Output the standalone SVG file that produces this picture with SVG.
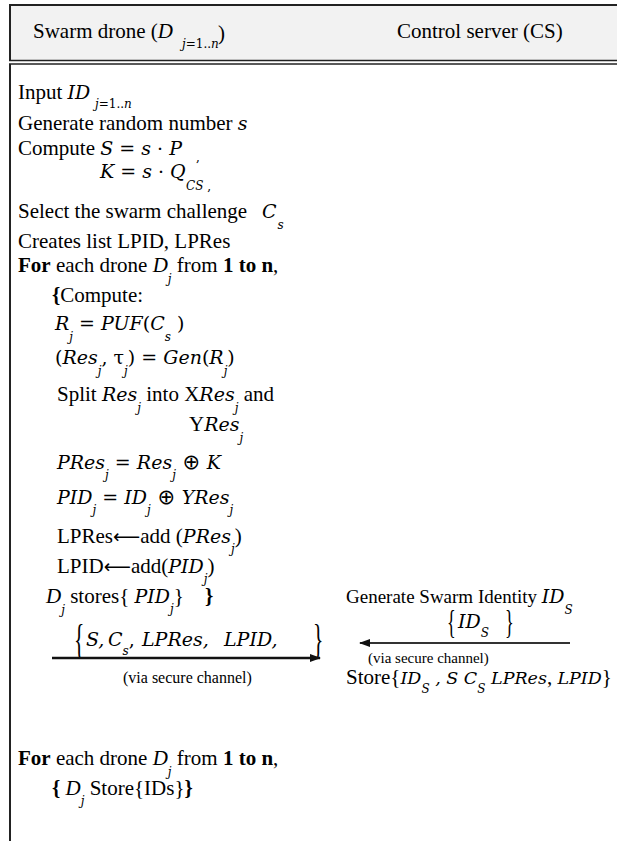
<svg xmlns="http://www.w3.org/2000/svg" width="617" height="841" viewBox="0 0 617 841">
<style>
.t{font-family:"Liberation Serif",serif;font-size:21px;fill:#000}
.h{font-family:"Liberation Serif",serif;font-size:19px;fill:#000}
.v{font-family:"Liberation Serif",serif;font-size:16px;fill:#000}
.v2{font-family:"Liberation Serif",serif;font-size:15px;fill:#000}
.br{font-family:"Liberation Serif",serif;fill:#000}
.i{font-style:italic}
.b{font-weight:bold}
.m{font-family:"DejaVu Serif",serif;font-style:italic;font-size:19px;fill:#000}
.m2{font-family:"DejaVu Serif",serif;font-style:italic;font-size:17.5px;fill:#000}
.u{font-style:normal}
.s{font-family:"DejaVu Serif",serif;font-style:italic;font-size:12px}
.su{font-family:"DejaVu Serif",serif;font-style:normal;font-size:12px}
.op{font-family:"DejaVu Sans",sans-serif;font-style:normal;font-size:21px}
.arr{font-family:"DejaVu Sans",sans-serif;font-size:19px}
.line{stroke:#222;fill:none}
</style>
<defs>
<marker id="ah" markerWidth="11" markerHeight="8" refX="10" refY="4" orient="auto" markerUnits="userSpaceOnUse">
<path d="M0,0 L11,4 L0,8 Z" fill="#111"/>
</marker>
</defs>

<g id="frame">
<rect x="9" y="4" width="608" height="57" fill="#f2f2f2"/>
<line class="line" x1="9" y1="5" x2="617" y2="5" stroke-width="2"/>
<line class="line" x1="10" y1="4" x2="10" y2="61" stroke-width="2"/>
<line class="line" x1="9" y1="60.5" x2="617" y2="60.5" stroke-width="1.5"/>
<line class="line" x1="9" y1="64" x2="617" y2="64" stroke-width="1.5"/>
<line class="line" x1="10" y1="64" x2="10" y2="841" stroke-width="2"/>
</g>

<g id="header">
<text class="t" x="33" y="38">Swarm drone (<tspan class="i">D</tspan></text>
<text class="s" x="182" y="48">j<tspan class="su">=1..</tspan>n</text>
<text class="t" x="218" y="40">)</text>
<text class="t" x="397" y="38">Control server (CS)</text>
</g>

<g id="drone-steps">
<text class="t" x="18" y="99">Input <tspan class="m">ID</tspan></text>
<text class="s" x="95" y="108">j<tspan class="su">=1..</tspan>n</text>
<text class="t" x="18" y="130">Generate random number <tspan class="m">s</tspan></text>
<text class="t" x="18" y="155">Compute <tspan class="m">S <tspan class="u">=</tspan> s <tspan class="u">·</tspan> P</tspan></text>
<text class="su" x="196" y="161">,</text>
<text class="m" x="100" y="178">K <tspan class="u">=</tspan> s <tspan class="u">·</tspan> Q</text>
<text class="s" x="186" y="190">CS<tspan class="su"> ,</tspan></text>
<text class="t" x="18" y="218">Select the swarm challenge</text>
<text class="m" x="262" y="218">C<tspan class="s" dx="1" dy="11">s</tspan></text>
<text class="t" x="18" y="248">Creates list LPID, LPRes</text>
<text class="t" x="18" y="272"><tspan class="b">For</tspan> each drone <tspan class="i">D</tspan><tspan class="s" dy="11">j</tspan><tspan dy="-11"> from </tspan><tspan class="b">1 to n</tspan>,</text>
<text class="t" x="52" y="302"><tspan class="b">{</tspan>Compute:</text>
<text class="m" x="55" y="330">R<tspan class="s" dy="11">j</tspan><tspan class="u" dy="-11"> = </tspan>PUF<tspan class="u">(</tspan>C<tspan class="s" dy="11">s</tspan><tspan class="u" dy="-11"> )</tspan></text>
<text class="m" x="55" y="364"><tspan class="u">(</tspan>Res<tspan class="s" dy="11">j</tspan><tspan class="u" dy="-11">, τ</tspan><tspan class="s" dy="11">j</tspan><tspan class="u" dy="-11">) = </tspan>Gen<tspan class="u">(</tspan>R<tspan class="s" dy="11">j</tspan><tspan class="u" dy="-11">)</tspan></text>
<text class="t" x="57" y="401">Split <tspan class="m">Res</tspan><tspan class="s" dy="11">j</tspan><tspan dy="-11"> into X</tspan><tspan class="m">Res</tspan><tspan class="s" dy="11">j</tspan><tspan dy="-11"> and</tspan></text>
<text class="t" x="189" y="431">Y<tspan class="m">Res</tspan><tspan class="s" dy="11">j</tspan></text>
<text class="m" x="57" y="469">PRes<tspan class="s" dy="10">j</tspan><tspan class="u" dy="-10"> = </tspan>Res<tspan class="s" dy="10">j</tspan><tspan class="op" dy="-10"> ⊕ </tspan>K</text>
<text class="m" x="57" y="504">PID<tspan class="s" dy="10">j</tspan><tspan class="u" dy="-10"> = </tspan>ID<tspan class="s" dy="10">j</tspan><tspan class="op" dy="-10"> ⊕ </tspan>YRes<tspan class="s" dy="10">j</tspan></text>
<text class="t" x="57" y="543">LPRes<tspan class="arr">⟵</tspan>add (<tspan class="m">PRes</tspan><tspan class="s" dy="10">j</tspan><tspan dy="-10">)</tspan></text>
<text class="t" x="57" y="573">LPID<tspan class="arr">⟵</tspan>add(<tspan class="m">PID</tspan><tspan class="s" dy="10">j</tspan><tspan dy="-10">)</tspan></text>
<text class="t" x="46" y="603"><tspan class="i">D</tspan><tspan class="s" dy="11">j</tspan><tspan dy="-11"> stores{ </tspan><tspan class="m">PID</tspan><tspan class="s" dy="10">j</tspan><tspan dy="-10">}</tspan></text>
<text class="t b" x="205" y="603">}</text>
<text class="br" style="font-size:43px" transform="translate(74,653) scale(0.5,1)">{</text>
<text class="m" x="86" y="646">S, <tspan x="108">C</tspan><tspan class="s" dy="9">s</tspan><tspan class="u" dy="-9">, </tspan><tspan x="142">LPRes,</tspan><tspan x="224">LPID,</tspan></text>
<text class="br" style="font-size:43px" transform="translate(313,653) scale(0.5,1)">}</text>
<text class="v" x="123" y="683">(via secure channel)</text>
<text class="t" x="18" y="765"><tspan class="b">For</tspan> each drone <tspan class="i">D</tspan><tspan class="s" dy="11">j</tspan><tspan dy="-11"> from </tspan><tspan class="b">1 to n</tspan>,</text>
<text class="t" x="52" y="795"><tspan class="b">{ </tspan><tspan class="i">D</tspan><tspan class="s" dy="10">j</tspan><tspan dy="-10"> Store{IDs}</tspan><tspan class="b">}</tspan></text>
</g>

<g id="server-steps">
<text class="h" x="346" y="603">Generate Swarm Identity <tspan class="m">ID</tspan><tspan class="s" dy="11">S</tspan></text>
<text class="br" style="font-size:33px" transform="translate(447,633) scale(0.55,1)">{</text>
<text class="m" x="458" y="628">ID<tspan class="s" dy="9">S</tspan></text>
<text class="br" style="font-size:33px" transform="translate(505,633) scale(0.55,1)">}</text>
<text class="v2" x="368" y="663">(via secure channel)</text>
<text class="t" x="346" y="684">Store{<tspan class="m2">ID</tspan><tspan class="s" dy="9">S</tspan><tspan class="m2" dy="-9"> , S C</tspan><tspan class="s" dy="9">S</tspan><tspan class="m2" dy="-9"> LPRes</tspan>, <tspan class="m2">LPID</tspan>}</text>
</g>

<g id="connectors">
<line x1="52" y1="658" x2="320" y2="658" stroke="#111" stroke-width="2.5" marker-end="url(#ah)"/>
<line x1="570" y1="643" x2="360" y2="643" stroke="#333" stroke-width="2" marker-end="url(#ah)"/>
</g>
</svg>
